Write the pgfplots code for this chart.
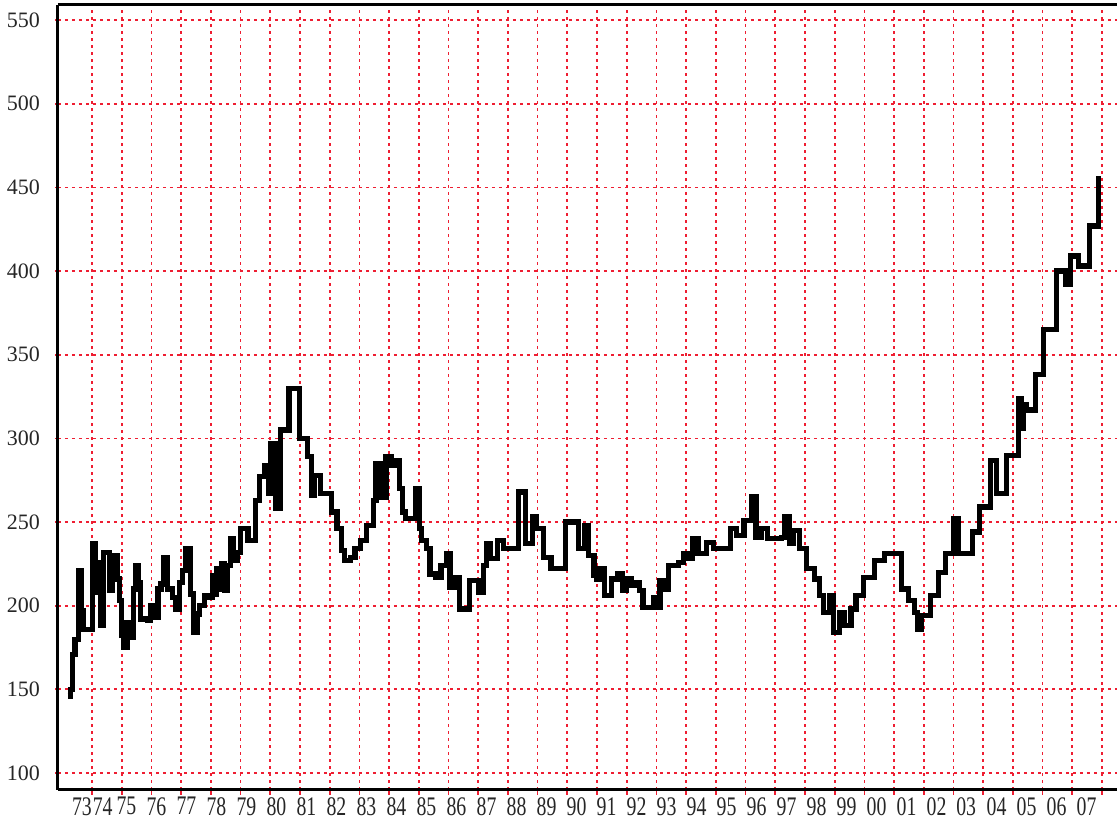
\documentclass[border=0pt]{standalone}
\usepackage{fontspec}
\setmainfont{Liberation Serif}
\usepackage{graphicx}
\usepackage{pgfplots}
\pgfplotsset{compat=1.18}
\definecolor{gridred}{RGB}{238,30,50}
\newcommand\xl[1]{\scalebox{0.9}[1.22]{#1}}
\begin{document}
\begin{tikzpicture}
\begin{axis}[
  scale only axis,
  width=529.5pt, height=392.5pt,
  xmin=1972.855, xmax=2008.505,
  ymin=89.84, ymax=559.05,
  axis x line=box, axis y line=left,
  axis line style={black, line width=1.5pt},
  y axis line style={-},
  xtick={1973.66,1974.36,1975.16,1976.17,1977.18,1978.19,1979.20,1980.21,1981.22,1982.23,1983.24,1984.25,1985.26,1986.27,1987.28,1988.29,1989.30,1990.31,1991.32,1992.33,1993.34,1994.35,1995.36,1996.37,1997.38,1998.39,1999.40,2000.41,2001.42,2002.43,2003.43,2004.45,2005.46,2006.47,2007.48},
  xticklabels={\xl{73},\xl{74},\xl{75},\xl{76},\xl{77},\xl{78},\xl{79},\xl{80},\xl{81},\xl{82},\xl{83},\xl{84},\xl{85},\xl{86},\xl{87},\xl{88},\xl{89},\xl{90},\xl{91},\xl{92},\xl{93},\xl{94},\xl{95},\xl{96},\xl{97},\xl{98},\xl{99},\xl{00},\xl{01},\xl{02},\xl{03},\xl{04},\xl{05},\xl{06},\xl{07}},
  minor xtick={1974,1975,...,2008},
  ytick={100,150,...,550},
  xmajorgrids=false, xminorgrids=true, ymajorgrids=true,
  grid style={gridred, line width=0.85pt, dash pattern=on 1.4pt off 2.1pt},
  minor grid style={gridred, line width=0.85pt, dash pattern=on 1.4pt off 2.1pt},
  tick align=outside,
  xtick pos=left, ytick pos=left,
  major tick length=1.5pt, minor tick length=2.5pt,
  major x tick style={draw=none},
  minor x tick style={gridred, line width=0.85pt},
  ytick style={gridred, line width=0.85pt},
  /pgf/number format/assume math mode=true,
  tick label style={font=\fontsize{11}{13}\selectfont, text=black!85},
  xticklabel style={yshift=-1pt, inner sep=1pt},
  yticklabel style={xshift=-4pt},
  clip=false,
]
\addplot[const plot, black, line width=2.6pt, line join=miter] coordinates {
(1973.18,146) (1973.27,150) (1973.33,171) (1973.43,180) (1973.55,221) (1973.64,197)
(1973.70,186) (1974.02,237) (1974.13,226) (1974.20,208) (1974.28,188) (1974.40,232)
(1974.60,209) (1974.70,230) (1974.85,216) (1974.93,203) (1975.00,182) (1975.08,175)
(1975.18,190) (1975.28,181) (1975.40,210) (1975.47,224) (1975.57,214) (1975.63,192)
(1975.88,191) (1975.97,200) (1976.10,193) (1976.22,210) (1976.32,213) (1976.40,229)
(1976.55,210) (1976.70,205) (1976.80,198) (1976.95,214) (1977.05,221) (1977.15,234)
(1977.32,207) (1977.42,184) (1977.55,195) (1977.63,200) (1977.80,206) (1977.95,205)
(1978.05,218) (1978.12,207) (1978.20,222) (1978.28,210) (1978.35,225) (1978.45,209)
(1978.55,224) (1978.65,240) (1978.75,227) (1978.88,232) (1979.00,246) (1979.25,239)
(1979.50,263) (1979.65,277) (1979.82,284) (1979.93,267) (1980.00,297) (1980.18,258)
(1980.35,305) (1980.63,330) (1980.98,300) (1981.25,289) (1981.38,266) (1981.48,278)
(1981.70,267) (1982.05,256) (1982.25,246) (1982.40,233) (1982.50,227) (1982.70,229)
(1982.85,234) (1983.05,239) (1983.25,248) (1983.48,263) (1983.56,285) (1983.75,265)
(1983.90,289) (1984.07,284) (1984.20,287) (1984.35,270) (1984.45,256) (1984.55,252)
(1984.88,270) (1985.03,246) (1985.10,239) (1985.25,234) (1985.38,219) (1985.55,217)
(1985.75,224) (1985.92,231) (1986.05,211) (1986.20,217) (1986.38,198) (1986.72,215)
(1987.02,208) (1987.17,224) (1987.28,237) (1987.40,228) (1987.65,239) (1987.85,234)
(1988.35,268) (1988.58,237) (1988.82,253) (1988.95,246) (1989.20,229) (1989.45,222)
(1989.95,250) (1990.38,234) (1990.58,248) (1990.72,230) (1990.90,218) (1991.00,216)
(1991.10,222) (1991.25,206) (1991.50,216) (1991.68,219) (1991.85,209) (1992.00,216)
(1992.15,212) (1992.28,214) (1992.42,209) (1992.55,199) (1992.90,205) (1993.00,199)
(1993.12,215) (1993.30,210) (1993.42,224) (1993.75,226) (1993.92,231) (1994.08,228)
(1994.22,240) (1994.40,231) (1994.68,238) (1994.92,234) (1995.50,246) (1995.70,242)
(1995.95,251) (1996.20,265) (1996.35,241) (1996.55,246) (1996.75,240) (1997.20,241)
(1997.32,253) (1997.47,237) (1997.60,245) (1997.83,234) (1998.05,222) (1998.33,216)
(1998.50,206) (1998.62,196) (1998.82,206) (1998.95,184) (1999.15,196) (1999.32,188)
(1999.55,198) (1999.72,206) (1999.98,217) (2000.35,227) (2000.68,231) (2001.25,210)
(2001.48,203) (2001.68,196) (2001.80,186) (2001.93,194) (2002.22,206) (2002.50,220)
(2002.73,231) (2003.00,252) (2003.18,231) (2003.63,244) (2003.88,259) (2004.25,287)
(2004.45,267) (2004.78,290) (2005.18,324) (2005.28,306) (2005.36,320) (2005.45,317)
(2005.75,338) (2006.03,365) (2006.48,400) (2006.76,392) (2006.93,409) (2007.22,403)
(2007.58,427) (2007.88,455) (2007.97,455)
};
\end{axis}
\pgfresetboundingbox
\path ([xshift=-29pt,yshift=-15.5pt]current axis.south west) rectangle ([yshift=2.5pt]current axis.north east);
\end{tikzpicture}
\end{document}
